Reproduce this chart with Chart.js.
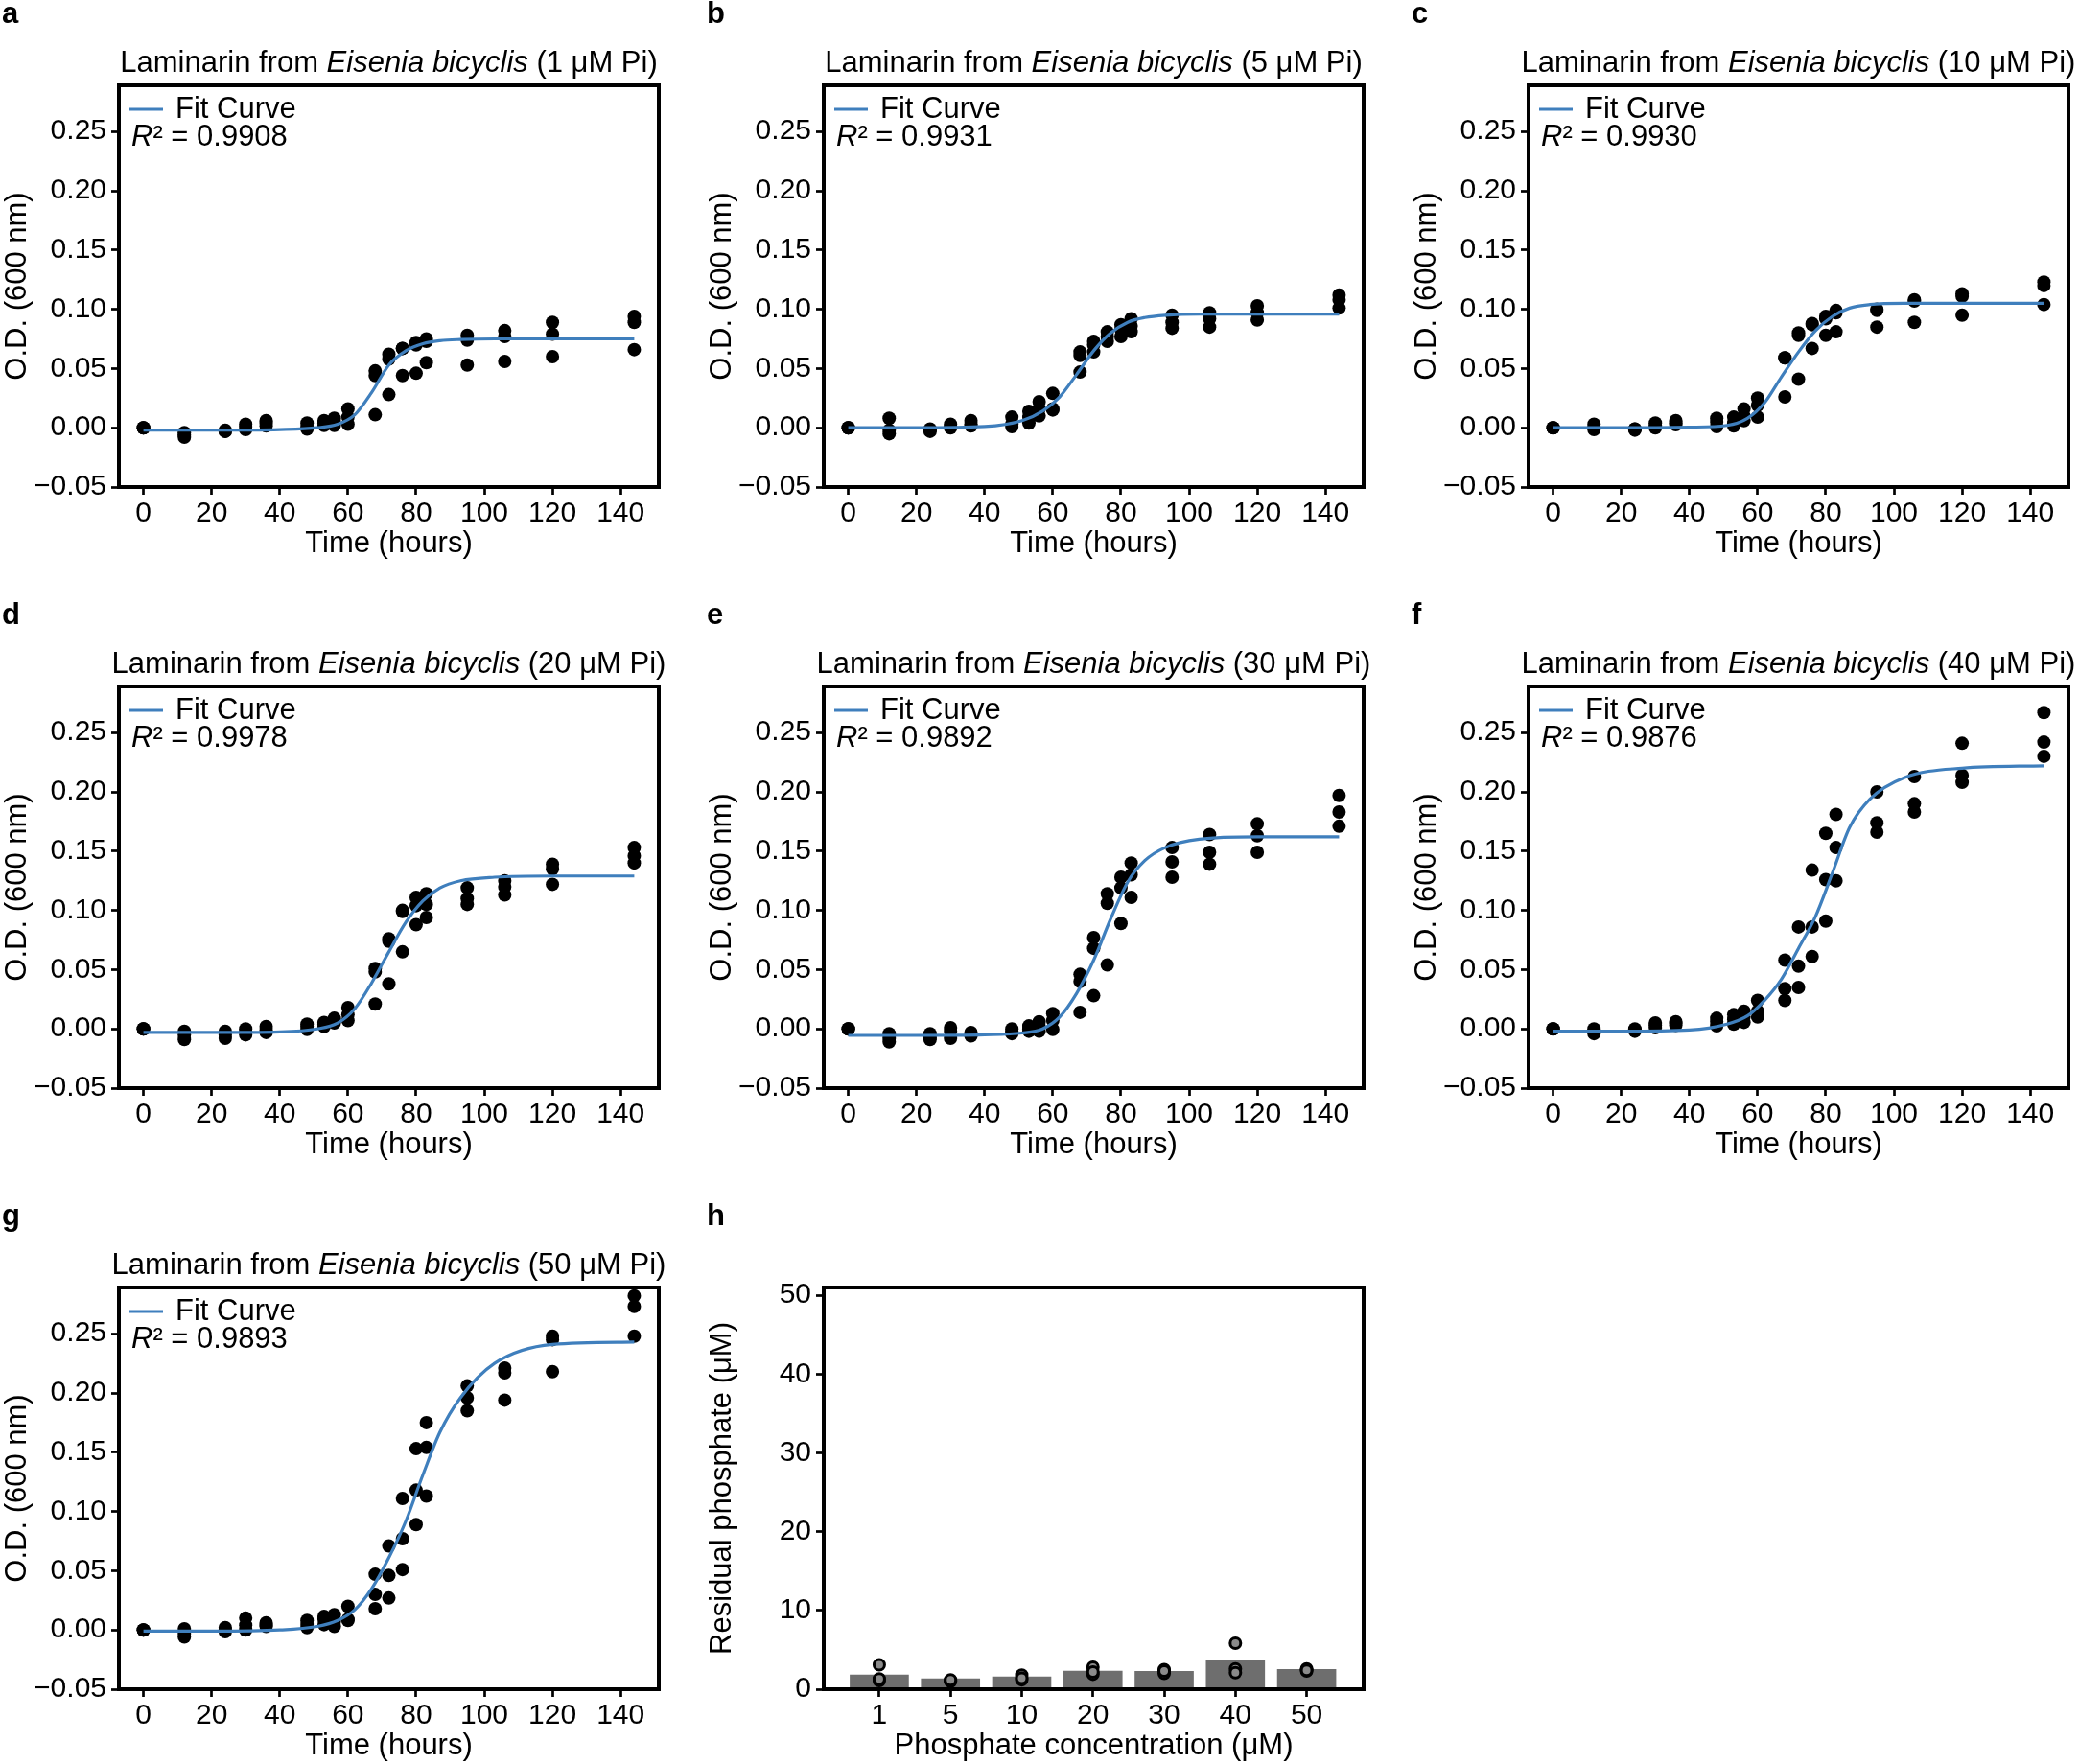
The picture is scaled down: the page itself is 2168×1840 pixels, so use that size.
<!DOCTYPE html>
<html>
<head>
<meta charset="utf-8">
<title>Laminarin from Eisenia bicyclis - growth at different Pi levels</title>
<script src="https://cdn.jsdelivr.net/npm/chart.js@4.4.1/dist/chart.umd.min.js"></script>
<style>
  html, body { margin: 0; padding: 0; background: #fff; }
  body { width: 2168px; height: 1840px; position: relative; overflow: hidden; }
  canvas { position: absolute; }
</style>
</head>
<body>
<canvas id="panelA" width="698" height="590" style="left:0px;top:0px"></canvas>
<canvas id="panelB" width="698" height="590" style="left:735px;top:0px"></canvas>
<canvas id="panelC" width="698" height="590" style="left:1470px;top:0px"></canvas>
<canvas id="panelD" width="698" height="590" style="left:0px;top:627px"></canvas>
<canvas id="panelE" width="698" height="590" style="left:735px;top:627px"></canvas>
<canvas id="panelF" width="698" height="590" style="left:1470px;top:627px"></canvas>
<canvas id="panelG" width="698" height="590" style="left:0px;top:1254px"></canvas>
<canvas id="panelH" width="698" height="590" style="left:735px;top:1254px"></canvas>
<script>
  /************************************************
   *  DATA
   ************************************************/
  const sampleTimes = [0, 12, 24, 30, 36, 48, 53, 56, 60, 68, 72, 76, 80, 83, 95, 106, 120, 144];
  const fitTimes = [0, 20, 40, 51, 57, 62, 67, 72, 77, 82, 87, 93, 103, 120, 144];
  const timeTicks = [0, 20, 40, 60, 80, 100, 120, 140];
  const odTicks = [-0.05, 0, 0.05, 0.10, 0.15, 0.20, 0.25];

  // O.D. replicates per sample time (three flasks)
  const odA = [[0, 0, 0], [-0.004, -0.006, -0.008], [-0.002, -0.003, -0.003], [0.003, 0.001, -0.0015],
    [0.006, 0.004, 0.0015], [0.004, 0.001, -0.001], [0.006, 0.004, 0.002], [0.008, 0.005, 0.002],
    [0.016, 0.009, 0.003], [0.048, 0.044, 0.011], [0.062, 0.058, 0.028], [0.067, 0.067, 0.044],
    [0.072, 0.070, 0.046], [0.075, 0.073, 0.055], [0.078, 0.074, 0.053], [0.082, 0.077, 0.056],
    [0.089, 0.079, 0.060], [0.094, 0.089, 0.066]];
  const odB = [[0, 0, 0], [0.008, -0.002, -0.005], [-0.001, -0.002, -0.003], [0.003, 0.001, 0.000],
    [0.006, 0.003, 0.0015], [0.009, 0.003, 0.001], [0.014, 0.009, 0.004], [0.022, 0.016, 0.010],
    [0.029, 0.016, 0.015], [0.064, 0.061, 0.047], [0.073, 0.070, 0.064], [0.081, 0.077, 0.073],
    [0.087, 0.083, 0.077], [0.092, 0.086, 0.081], [0.095, 0.089, 0.084], [0.097, 0.092, 0.085],
    [0.103, 0.097, 0.091], [0.112, 0.108, 0.101]];
  const odC = [[0, 0, 0], [0.003, 0.000, -0.0015], [-0.001, -0.001, -0.002], [0.004, 0.002, 0.000],
    [0.006, 0.004, 0.0025], [0.008, 0.005, 0.001], [0.009, 0.004, 0.0015], [0.016, 0.010, 0.006],
    [0.025, 0.019, 0.009], [0.059, 0.059, 0.026], [0.080, 0.078, 0.041], [0.088, 0.087, 0.067],
    [0.094, 0.092, 0.078], [0.099, 0.097, 0.081], [0.100, 0.099, 0.085], [0.108, 0.107, 0.089],
    [0.113, 0.111, 0.095], [0.123, 0.120, 0.104]];
  const odD = [[0, 0, 0], [-0.002, -0.005, -0.009], [-0.002, -0.005, -0.008], [0.000, -0.002, -0.005],
    [0.002, -0.001, -0.003], [0.004, 0.002, -0.0005], [0.0055, 0.004, 0.002], [0.009, 0.007, 0.005],
    [0.018, 0.012, 0.007], [0.051, 0.048, 0.021], [0.076, 0.074, 0.038], [0.100, 0.099, 0.065],
    [0.111, 0.104, 0.088], [0.114, 0.105, 0.094], [0.119, 0.110, 0.105], [0.125, 0.120, 0.113],
    [0.139, 0.135, 0.122], [0.153, 0.146, 0.140]];
  const odE = [[0, 0, 0], [-0.004, -0.008, -0.011], [-0.004, -0.007, -0.009], [0.001, -0.002, -0.008],
    [-0.003, -0.005, -0.006], [0.000, -0.002, -0.004], [0.0025, 0.000, -0.002], [0.006, 0.002, -0.002],
    [0.013, 0.007, -0.0005], [0.046, 0.040, 0.014], [0.077, 0.068, 0.028], [0.114, 0.106, 0.054],
    [0.128, 0.119, 0.089], [0.140, 0.130, 0.111], [0.153, 0.141, 0.128], [0.164, 0.149, 0.139],
    [0.173, 0.163, 0.149], [0.197, 0.183, 0.171]];
  const odF = [[0, 0, 0], [0.000, -0.002, -0.004], [0.000, -0.001, -0.002], [0.005, 0.003, 0.001],
    [0.006, 0.005, 0.003], [0.009, 0.006, 0.0025], [0.012, 0.008, 0.004], [0.015, 0.010, 0.0055],
    [0.024, 0.015, 0.010], [0.058, 0.034, 0.024], [0.086, 0.053, 0.035], [0.134, 0.086, 0.061],
    [0.165, 0.126, 0.091], [0.181, 0.153, 0.125], [0.200, 0.174, 0.166], [0.213, 0.190, 0.183],
    [0.241, 0.214, 0.208], [0.267, 0.242, 0.230]];
  const odG = [[0, 0, 0], [0.001, -0.003, -0.006], [0.002, 0.000, -0.0015], [0.010, 0.004, 0.000],
    [0.006, 0.004, 0.003], [0.008, 0.005, 0.002], [0.0115, 0.009, 0.0045], [0.013, 0.007, 0.003],
    [0.020, 0.009, 0.008], [0.047, 0.030, 0.018], [0.071, 0.046, 0.027], [0.111, 0.077, 0.051],
    [0.153, 0.118, 0.089], [0.175, 0.154, 0.113], [0.206, 0.196, 0.185], [0.221, 0.217, 0.194],
    [0.248, 0.245, 0.218], [0.282, 0.273, 0.248]];

  // fitted curve at fitTimes
  const fitA = [-0.002, -0.002, -0.0015, 0.000, 0.003, 0.011, 0.030, 0.053, 0.065, 0.071, 0.0735, 0.0745, 0.075, 0.075, 0.075];
  const fitB = [0.000, 0.000, 0.001, 0.006, 0.014, 0.026, 0.045, 0.065, 0.080, 0.089, 0.093, 0.095, 0.096, 0.096, 0.096];
  const fitC = [0.000, 0.000, 0.0005, 0.002, 0.008, 0.021, 0.043, 0.064, 0.082, 0.094, 0.101, 0.104, 0.105, 0.105, 0.105];
  const fitD = [-0.003, -0.003, -0.0025, 0.000, 0.005, 0.017, 0.039, 0.065, 0.090, 0.108, 0.119, 0.125, 0.128, 0.129, 0.129];
  const fitE = [-0.0055, -0.0055, -0.005, -0.0035, 0.000, 0.010, 0.030, 0.058, 0.093, 0.124, 0.142, 0.153, 0.160, 0.162, 0.162];
  const fitF = [-0.002, -0.002, -0.001, 0.004, 0.011, 0.024, 0.042, 0.068, 0.095, 0.132, 0.170, 0.194, 0.212, 0.220, 0.222];
  const fitG = [-0.001, -0.001, 0.000, 0.003, 0.008, 0.017, 0.035, 0.061, 0.092, 0.131, 0.167, 0.196, 0.225, 0.241, 0.243];

  const phosphateLevels = [1, 5, 10, 20, 30, 40, 50];
  const rSquared = ['0.9908', '0.9931', '0.9930', '0.9978', '0.9892', '0.9876', '0.9893'];

  // panel h: residual phosphate
  const phosphateLabels = ['1', '5', '10', '20', '30', '40', '50'];
  const residualMean = [1.87, 1.36, 1.6, 2.34, 2.3, 3.75, 2.57];
  const residualReps = [[3.1, 1.1, 1.3], [1.1, 1.0, 1.2], [1.8, 1.2, 1.4], [2.8, 1.9, 2.2],
    [2.5, 2.0, 2.3], [5.85, 2.6, 2.1], [2.6, 2.3, 2.4]];
  const residualTicks = [0, 10, 20, 30, 40, 50];

  /************************************************
   *  SHARED STYLE
   ************************************************/
  const FONT = '"Liberation Sans", Arial, Helvetica, sans-serif';
  const FIT_BLUE = '#3f7fbd';
  const TEXT_SIZE = 31;
  const TICK_SIZE = 30;

  function fmtOD(v) {
    const s = Math.abs(v).toFixed(2);
    return v < -1e-9 ? '\u2212' + s : s;
  }

  // draw text made of runs with different styles, centred on cx
  function drawRuns(ctx, runs, cx, y) {
    let total = 0;
    runs.forEach((r) => {
      ctx.font = `${r.italic ? 'italic ' : ''}${TEXT_SIZE}px ${FONT}`;
      r.w = ctx.measureText(r.text).width;
      total += r.w;
    });
    let x = cx - total / 2;
    ctx.textAlign = 'left';
    runs.forEach((r) => {
      ctx.font = `${r.italic ? 'italic ' : ''}${TEXT_SIZE}px ${FONT}`;
      ctx.fillText(r.text, x, y);
      x += r.w;
    });
  }

  // frame, panel letter, title, axis titles and the in-plot legend
  const panelDecor = {
    id: 'panelDecor',
    afterDraw(chart, args, opts) {
      const { ctx, chartArea: a } = chart;
      const cx = (a.left + a.right) / 2;
      ctx.save();
      ctx.strokeStyle = '#000';
      ctx.lineWidth = 4;
      ctx.strokeRect(a.left, a.top, a.right - a.left, a.bottom - a.top);

      ctx.fillStyle = '#000';
      ctx.textBaseline = 'alphabetic';
      ctx.textAlign = 'left';
      ctx.font = `bold ${TEXT_SIZE}px ${FONT}`;
      ctx.fillText(opts.letter, 2, a.top - 65);

      if (opts.title) drawRuns(ctx, opts.title, cx, a.top - 14);

      ctx.font = `${TEXT_SIZE}px ${FONT}`;
      ctx.textAlign = 'center';
      ctx.textBaseline = 'middle';
      ctx.fillText(opts.xLabel, cx, a.bottom + 59);
      ctx.save();
      ctx.translate(a.left - 106, (a.top + a.bottom) / 2);
      ctx.rotate(-Math.PI / 2);
      ctx.fillText(opts.yLabel, 0, 0);
      ctx.restore();

      if (opts.r2) {
        ctx.strokeStyle = FIT_BLUE;
        ctx.lineWidth = 3.2;
        ctx.beginPath();
        ctx.moveTo(a.left + 11, a.top + 25);
        ctx.lineTo(a.left + 46, a.top + 25);
        ctx.stroke();
        ctx.textAlign = 'left';
        ctx.font = `${TEXT_SIZE}px ${FONT}`;
        ctx.fillText('Fit Curve', a.left + 59, a.top + 25);
        ctx.font = `italic ${TEXT_SIZE}px ${FONT}`;
        ctx.fillText('R', a.left + 13, a.top + 54);
        const rw = ctx.measureText('R').width;
        ctx.font = `${TEXT_SIZE}px ${FONT}`;
        ctx.fillText('\u00b2 = ' + opts.r2, a.left + 13 + rw, a.top + 54);
      }
      ctx.restore();
    }
  };

  function axisStyle(extra) {
    return Object.assign({
      grid: { display: true, drawOnChartArea: false, drawTicks: true, tickLength: 8, tickWidth: 2.7, tickColor: '#000', offset: false },
      border: { display: false },
    }, extra);
  }

  /************************************************
   *  GROWTH CURVE PANELS (a-g)
   ************************************************/
  function createGrowthChart(canvasId, letter, level, r2, od, fit) {
    const points = [];
    sampleTimes.forEach((t, i) => od[i].forEach((v) => points.push({ x: t, y: v })));
    const curve = fitTimes.map((t, i) => ({ x: t, y: fit[i] }));

    new Chart(document.getElementById(canvasId), {
      type: 'scatter',
      data: {
        datasets: [
          {
            type: 'line',
            label: 'Fit Curve',
            data: curve,
            showLine: true,
            borderColor: FIT_BLUE,
            borderWidth: 3.2,
            pointRadius: 0,
            cubicInterpolationMode: 'monotone',
            fill: false,
            order: 0,
          },
          {
            label: 'O.D.',
            data: points,
            pointRadius: 7,
            pointBackgroundColor: '#000',
            pointBorderWidth: 0,
            order: 1,
          },
        ],
      },
      options: {
        responsive: false,
        animation: false,
        layout: { padding: { top: 89, right: 11, left: 0, bottom: 0 } },
        plugins: {
          legend: { display: false },
          tooltip: { enabled: false },
          panelDecor: {
            letter: letter,
            title: [
              { text: 'Laminarin from ' },
              { text: 'Eisenia bicyclis', italic: true },
              { text: ` (${level} \u03bcM Pi)` },
            ],
            xLabel: 'Time (hours)',
            yLabel: 'O.D. (600 nm)',
            r2: r2,
          },
        },
        scales: {
          x: axisStyle({
            type: 'linear',
            min: -7.2,
            max: 151.2,
            afterBuildTicks: (s) => { s.ticks = timeTicks.map((v) => ({ value: v })); },
            afterFit: (s) => { s.height = 82; },
            ticks: { autoSkip: false, maxRotation: 0, padding: 2, color: '#000', font: { family: FONT, size: TICK_SIZE }, callback: (v) => String(v) },
          }),
          y: axisStyle({
            type: 'linear',
            min: -0.05,
            max: 0.289,
            afterBuildTicks: (s) => { s.ticks = odTicks.map((v) => ({ value: v })); },
            afterFit: (s) => { s.width = 124; },
            ticks: { autoSkip: false, padding: 5, color: '#000', font: { family: FONT, size: TICK_SIZE }, callback: (v) => fmtOD(v) },
          }),
        },
      },
      plugins: [panelDecor],
    });
  }

  createGrowthChart('panelA', 'a', phosphateLevels[0], rSquared[0], odA, fitA);
  createGrowthChart('panelB', 'b', phosphateLevels[1], rSquared[1], odB, fitB);
  createGrowthChart('panelC', 'c', phosphateLevels[2], rSquared[2], odC, fitC);
  createGrowthChart('panelD', 'd', phosphateLevels[3], rSquared[3], odD, fitD);
  createGrowthChart('panelE', 'e', phosphateLevels[4], rSquared[4], odE, fitE);
  createGrowthChart('panelF', 'f', phosphateLevels[5], rSquared[5], odF, fitF);
  createGrowthChart('panelG', 'g', phosphateLevels[6], rSquared[6], odG, fitG);

  /************************************************
   *  RESIDUAL PHOSPHATE BARS (h)
   ************************************************/
  function createResidualChart() {
    const bars = residualMean.map((v, i) => ({ x: i, y: v }));
    const reps = [];
    residualReps.forEach((arr, i) => arr.forEach((v) => reps.push({ x: i, y: v })));

    new Chart(document.getElementById('panelH'), {
      type: 'bar',
      data: {
        datasets: [
          {
            type: 'scatter',
            label: 'replicates',
            data: reps,
            pointRadius: 5.5,
            pointBackgroundColor: '#8a8a8a',
            pointBorderColor: '#000',
            pointBorderWidth: 3,
            order: 0,
          },
          {
            label: 'Residual phosphate',
            data: bars,
            backgroundColor: '#6e6e6e',
            borderWidth: 0,
            barPercentage: 0.83,
            categoryPercentage: 1.0,
            order: 1,
          },
        ],
      },
      options: {
        responsive: false,
        animation: false,
        layout: { padding: { top: 89, right: 11, left: 0, bottom: 0 } },
        plugins: {
          legend: { display: false },
          tooltip: { enabled: false },
          panelDecor: {
            letter: 'h',
            title: null,
            xLabel: 'Phosphate concentration (\u03bcM)',
            yLabel: 'Residual phosphate (\u03bcM)',
            r2: null,
          },
        },
        scales: {
          x: axisStyle({
            type: 'linear',
            offset: false,
            min: -0.78,
            max: 6.8,
            afterBuildTicks: (s) => { s.ticks = phosphateLabels.map((l, i) => ({ value: i })); },
            afterFit: (s) => { s.height = 82; },
            ticks: { autoSkip: false, maxRotation: 0, padding: 2, color: '#000', font: { family: FONT, size: TICK_SIZE }, callback: (v, i) => phosphateLabels[i] },
          }),
          y: axisStyle({
            type: 'linear',
            min: 0,
            max: 51,
            afterBuildTicks: (s) => { s.ticks = residualTicks.map((v) => ({ value: v })); },
            afterFit: (s) => { s.width = 124; },
            ticks: { autoSkip: false, padding: 5, color: '#000', font: { family: FONT, size: TICK_SIZE }, callback: (v) => String(v) },
          }),
        },
      },
      plugins: [panelDecor],
    });
  }

  createResidualChart();
</script>
</body>
</html>
